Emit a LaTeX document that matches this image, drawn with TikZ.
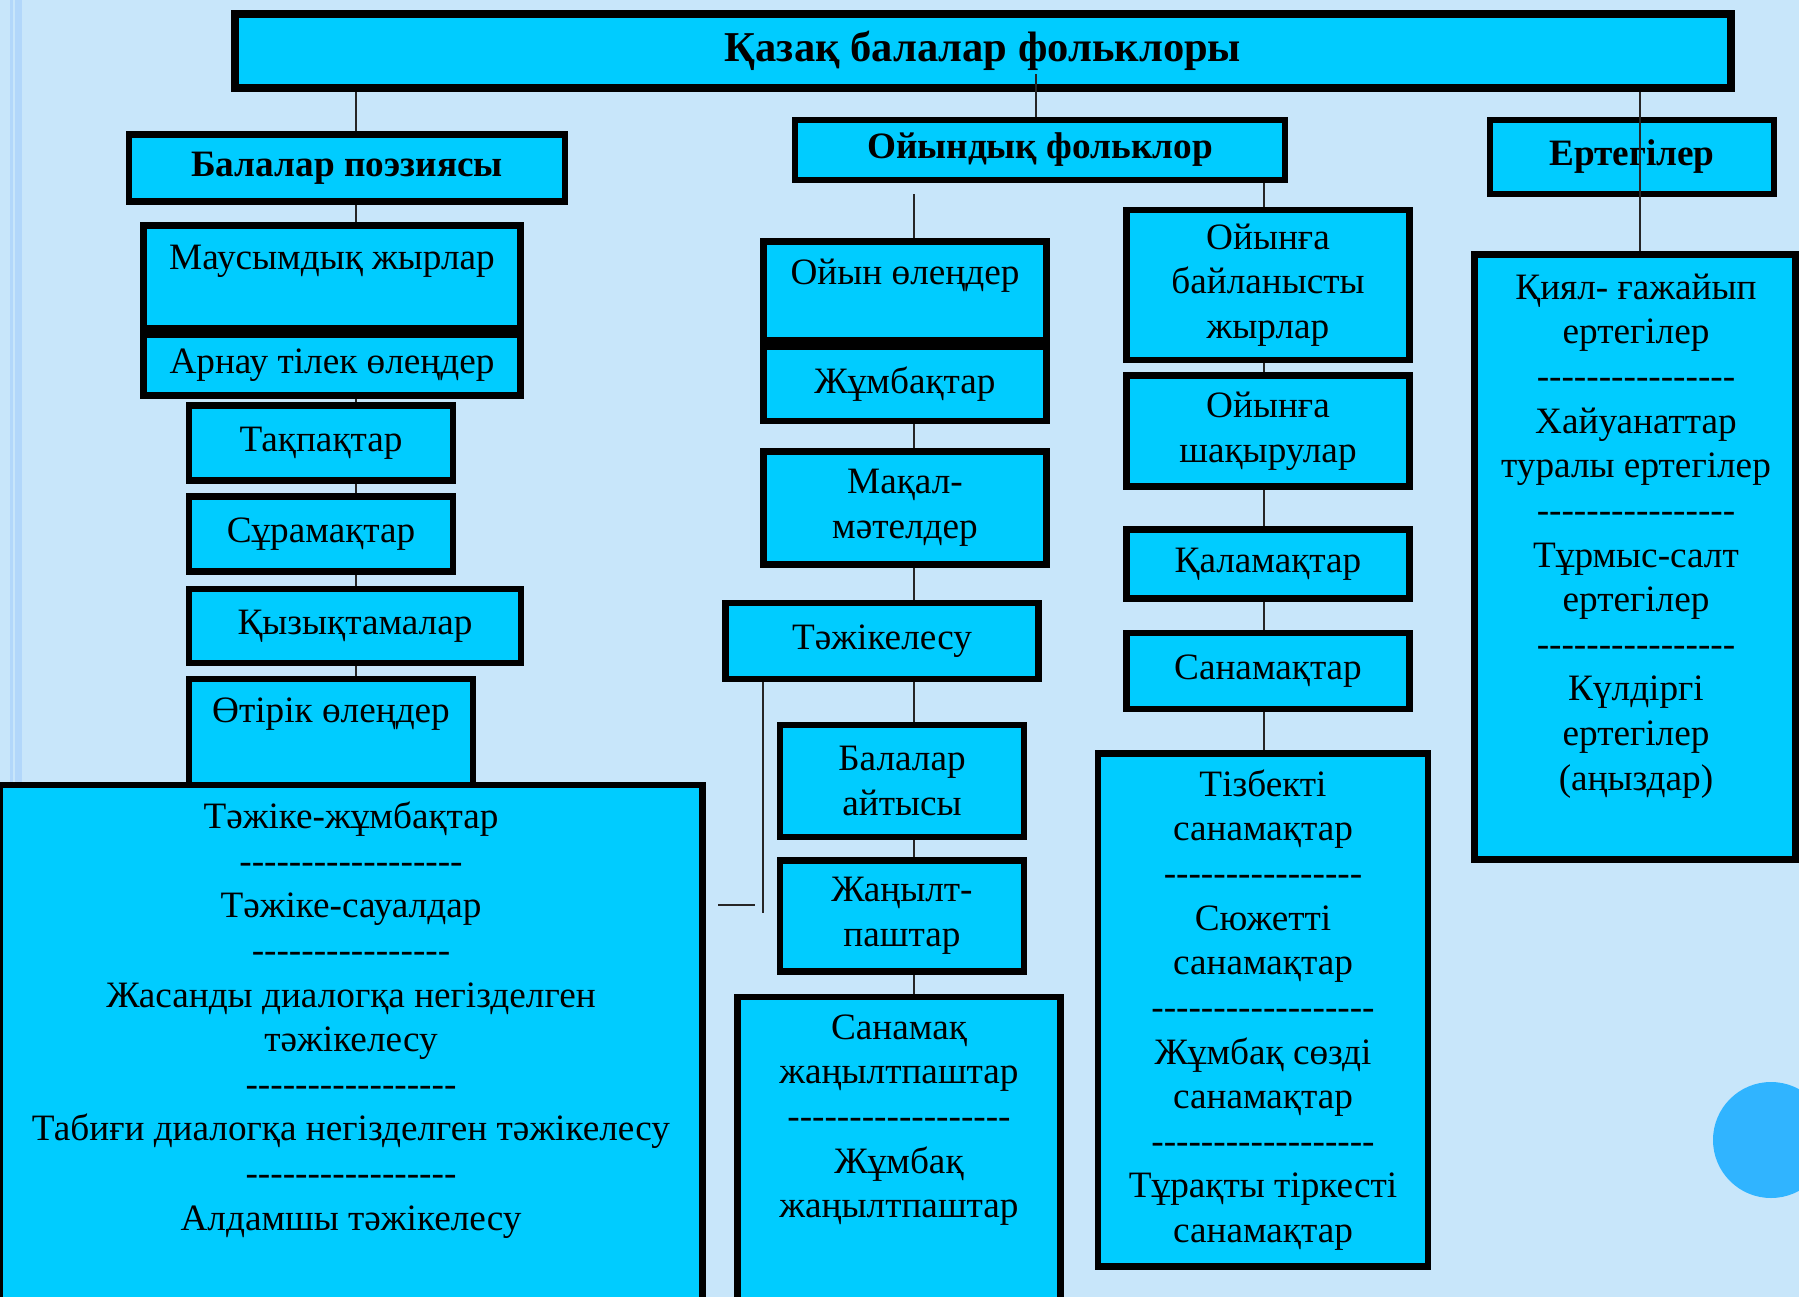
\documentclass[tikz,border=0pt]{standalone}
\usepackage{fontspec}
\setmainfont[Ligatures=TeXOff]{Liberation Serif}
\definecolor{slidebg}{RGB}{200,230,250}
\definecolor{boxfill}{RGB}{0,204,255}
\definecolor{dotblue}{RGB}{48,180,255}
\definecolor{stripe}{RGB}{178,215,250}
\tikzset{
	x=0.02cm, y=-0.02cm, % one unit is one pixel of the slide, y runs down
	box/.style={draw=black, line width=3.7pt, fill=boxfill, inner sep=0pt, align=center, font=\fontsize{21.2}{25.4}\selectfont}, % cyan boxes
	sz/.style 2 args={minimum width=#1*0.02cm, minimum height=#2*0.02cm}, % box size in pixels
	head/.style={font=\fontsize{21.2}{25.4}\selectfont\bfseries}, % bold headings
	txt/.style={align=center, inner sep=0pt, font=\fontsize{21.2}{25.4}\selectfont}, % text set at the top of a box
	link/.style={line width=1.1pt, black!85}, % thin connectors
}

\begin{document}
\begin{tikzpicture}
	\useasboundingbox (0,0) rectangle (1799,1297);
	\clip (0,0) rectangle (1799,1297);
	\fill[slidebg] (0,0) rectangle (1799,1297);
	\fill[stripe] (10,0) rectangle (13,800);
	\fill[stripe] (15,0) rectangle (22,800);
	\fill[dotblue] (1771,1140) circle (58);

	% root and the three branches
	\node[box, head, font=\fontsize{24.2}{28}\selectfont\bfseries, line width=5pt, sz={1496}{74}] (root) at (983,51) {Қазақ балалар фольклоры};
	\node[box, head, sz={436}{67}] (poet) at (347,168) {Балалар поэзиясы};
	\node[box, head, sz={490}{60}] (game) at (1040,150) {Ойындық фольклор};
	\node[box, head, sz={284}{74}] (tale) at (1632,157) {Ертегілер};

	% first column
	\node[box, sz={377}{103}] (maus) at (332,277) {};
	\node[txt] (mausT) at (332,261) {Маусымдық жырлар};
	\node[box, sz={377}{61}] (arnau) at (332,365) {Арнау тілек өлеңдер};
	\node[box, sz={264}{75}] (taqpaq) at (321,443) {Тақпақтар};
	\node[box, sz={264}{75}] (suram) at (321,534) {Сұрамақтар};
	\node[box, sz={332}{74}] (qyzyq) at (355,626) {Қызықтамалар};
	\node[box, sz={284}{106}] (otirik) at (331,732) {};
	\node[txt] (otirikT) at (331,714) {Өтірік өлеңдер};
	\node[box, sz={703}{522}] (tajbig) at (351,1046) {};
	\node[txt] (tajbigT) at (351,1020) {Тәжіке-жұмбақтар\\------------------\\Тәжіке-сауалдар\\----------------\\Жасанды диалогқа негізделген\\тәжікелесу\\-----------------\\Табиғи диалогқа негізделген тәжікелесу\\-----------------\\Алдамшы тәжікелесу};

	% second column
	\node[box, sz={283}{99}] (ojler) at (905,291) {};
	\node[txt] (ojlerT) at (905,276) {Ойын өлеңдер};
	\node[box, sz={283}{74}] (jumbaq) at (905,384) {Жұмбақтар};
	\node[box, sz={283}{113}] (maqal) at (905,508) {Мақал-\\мәтелдер};
	\node[box, sz={313}{76}] (tajik) at (882,641) {Тәжікелесу};
	\node[box, sz={244}{112}] (aitys) at (902,781) {Балалар\\айтысы};
	\node[box, sz={244}{111}] (janylt) at (902,916) {Жаңылт-\\паштар};
	\node[box, sz={323}{310}] (sanjan) at (899,1152) {};
	\node[txt] (sanjanT) at (899,1120) {Санамақ\\жаңылтпаштар\\------------------\\Жұмбақ\\жаңылтпаштар};

	% third column
	\node[box, sz={283}{150}] (baily) at (1268,285) {Ойынға\\байланысты\\жырлар};
	\node[box, sz={283}{111}] (shaqyr) at (1268,431) {Ойынға\\шақырулар};
	\node[box, sz={283}{69}] (qalam) at (1268,564) {Қаламақтар};
	\node[box, sz={283}{76}] (sanam) at (1268,671) {Санамақтар};
	\node[box, sz={330}{513}] (tizbek) at (1263,1010) {Тізбекті\\санамақтар\\----------------\\Сюжетті\\санамақтар\\------------------\\Жұмбақ сөзді\\санамақтар\\------------------\\Тұрақты тіркесті\\санамақтар};

	% tales
	\node[box, sz={321}{605}] (qiyal) at (1635,557) {};
	\node[txt] (qiyalT) at (1636,536) {Қиял- ғажайып\\ертегілер\\----------------\\Хайуанаттар\\туралы ертегілер\\----------------\\Тұрмыс-салт\\ертегілер\\----------------\\Күлдіргі\\ертегілер\\(аңыздар)};

	\coordinate (colA) at (356,0);
	\coordinate (colB) at (914,0);
	\coordinate (colC) at (1264,0);
	\coordinate (colT) at (1036,0);
	\coordinate (colE) at (1640,0);
	\coordinate (sideEnd) at (763,913);
	\coordinate (stubL) at (718,905);
	\coordinate (stubR) at (755,905);

	\draw[link] (root.south -| colA) -- (poet.north -| colA);
	\draw[link] (poet.south -| colA) -- (maus.north -| colA);
	\draw[link] (arnau.south -| colA) -- (taqpaq.north -| colA);
	\draw[link] (taqpaq.south -| colA) -- (suram.north -| colA);
	\draw[link] (suram.south -| colA) -- (qyzyq.north -| colA);
	\draw[link] (qyzyq.south -| colA) -- (otirik.north -| colA);

	\draw[link] (root.south -| colT) ++(0,-18) -- (game.north -| colT);
	\draw[link, shorten <=0.22cm] (game.south -| colB) -- (ojler.north -| colB);
	\draw[link] (jumbaq.south -| colB) -- (maqal.north -| colB);
	\draw[link] (maqal.south -| colB) -- (tajik.north -| colB);
	\draw[link] (tajik.south -| colB) -- (aitys.north -| colB);
	\draw[link] (aitys.south -| colB) -- (janylt.north -| colB);
	\draw[link] (janylt.south -| colB) -- (sanjan.north -| colB);
	\draw[link] (tajik.south -| sideEnd) -- (sideEnd);
	\draw[link] (stubL) -- (stubR);

	\draw[link] (game.south -| colC) -- (baily.north -| colC);
	\draw[link] (baily.south -| colC) -- (shaqyr.north -| colC);
	\draw[link] (shaqyr.south -| colC) -- (qalam.north -| colC);
	\draw[link] (qalam.south -| colC) -- (sanam.north -| colC);
	\draw[link] (sanam.south -| colC) -- (tizbek.north -| colC);

	\draw[link] (root.south -| colE) -- (qiyal.north -| colE);
\end{tikzpicture}
\end{document}
